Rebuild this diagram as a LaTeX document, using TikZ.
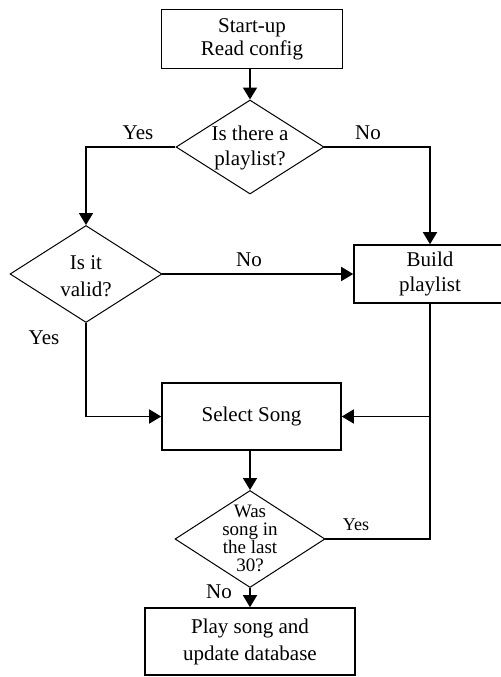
\documentclass[tikz,border=0pt]{standalone}
\usepackage{fontspec}
\setmainfont{Liberation Serif}
\usetikzlibrary{shapes.geometric,arrows.meta}
\begin{document}
\begin{tikzpicture}[x=0.5pt,y=-0.5pt,
  box/.style={draw,line width=0.8pt,rectangle,inner sep=0pt,align=center,font=\fontsize{10.5}{10.5}\selectfont},
  dec/.style={draw,line width=0.5pt,diamond,inner sep=0pt},
  dtext/.style={inner sep=0pt,align=center,font=\fontsize{10.5}{10.5}\selectfont},
  flow/.style={line width=0.8pt,-{Triangle[width=7pt,length=6pt]}},
  plain/.style={line width=0.8pt},
  lbl/.style={font=\fontsize{10.5}{10.5}\selectfont,inner sep=0pt}]
\useasboundingbox (0,0) rectangle (501,677);
\fill[white] (0,0) rectangle (501,677);
\node[box,minimum width=90.5pt,minimum height=29.5pt] (start) at (252,39) {Start-up\\[1pt]Read config};
\node[dec,minimum width=74pt,minimum height=47pt] (d1) at (250,147) {};
\node[dtext] (t1) at (250,148) {Is there a\\[2pt]playlist?};
\node[dec,minimum width=76pt,minimum height=48.5pt] (d2) at (86,274) {};
\node[dtext] (t2) at (86,276) {Is it\\[3pt]valid?};
\node[box,minimum width=76pt,minimum height=29pt] (build) at (430,274) {Build\\[2pt]playlist};
\node[box,minimum width=89.5pt,minimum height=33.5pt] (select) at (251.5,416.5) {Select Song};
\node[dec,minimum width=75pt,minimum height=48.5pt] (d3) at (250,539) {};
\node[dtext,font=\fontsize{9.5}{9}\selectfont] (t3) at (250,538) {Was\\song in\\the last\\30?};
\node[box,minimum width=105pt,minimum height=33.5pt] (play) at (250,641.5) {Play song and\\[3pt]update database};
\coordinate (j) at (430,416.5);
\draw[flow] (start.south -| d1.north) -- (d1.north);
\draw[flow] (d1.west) -| (d2.north);
\draw[flow] (d1.east) -| (build.north);
\draw[flow] (d2.east) -- (build.west);
\draw[flow] (d2.south) |- (select.west);
\draw[plain] (build.south) -- (j);
\draw[plain] (d3.east) -| (j);
\draw[flow] (j) -- (select.east);
\draw[flow] (select.south -| d3.north) -- (d3.north);
\draw[flow] (d3) -- (play);
\node[lbl] (y1) at (138,133) {Yes};
\node[lbl] (n1) at (368,133) {No};
\node[lbl] (n2) at (249,260) {No};
\node[lbl] (y2) at (44,338) {Yes};
\node[lbl,font=\fontsize{9}{9}\selectfont] (y3) at (356,525) {Yes};
\node[lbl] (n3) at (219,592) {No};
\end{tikzpicture}
\end{document}
